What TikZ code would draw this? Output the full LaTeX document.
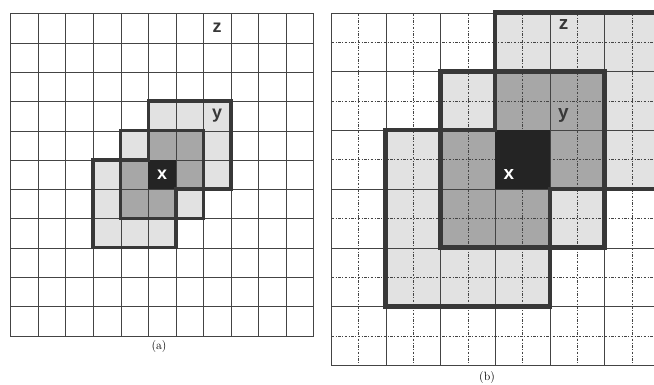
\documentclass[tikz,border=0pt]{standalone}
\usepackage{fontspec}
\newfontfamily\cellfont{Liberation Sans}

\definecolor{ringtwo}{HTML}{E2E2E2}
\definecolor{ringone}{HTML}{A7A7A7}
\definecolor{centre}{HTML}{242424}
\definecolor{rim}{HTML}{383838}
\definecolor{rulec}{HTML}{444444}

% hexagonal neighbourhood around the cell whose top left corner is (0,0)
\newcommand{\hexcells}{%
  \foreach \c/\r in {0/-2,1/-2,2/-2,-1/-1,2/-1,-2/0,2/0,-2/1,1/1,-2/2,-1/2,0/2}
    \fill[ringtwo] (\c,\r) rectangle ++(1,1);
  \foreach \c/\r in {0/-1,1/-1,-1/0,1/0,-1/1,0/1}
    \fill[ringone] (\c,\r) rectangle ++(1,1);}
\newcommand{\hexrims}[1]{%
  \fill[centre] (0,0) rectangle (1,1);
  \draw[rim,line width=#1,line join=miter]
    (0,-2) -| (3,1) -| (2,2) -| (1,3) -| (-2,0) -| (-1,-1) -| (0,-2) -- cycle;
  \draw[rim,line width=#1,line join=miter]
    (0,-1) -| (2,1) -| (1,2) -| (-1,0) -| (0,-1) -- cycle;}

\begin{document}
\begin{tikzpicture}[x=1bp,y=-1bp,
  panela/.style={shift={(148.3,159.8)},x=27.56bp,y=-29.3bp},
  panelb/.style={shift={(495.1,130)},x=54.7bp,y=-58.75bp},
  thinrule/.style={rulec,line width=1.3bp,line cap=rect},
  majorrule/.style={rulec,line width=1.7bp,line cap=rect},
  subrule/.style={rulec,line width=1.1bp,dash pattern=on 2.5bp off 1.5bp on 1bp off 1.5bp},
  lettera/.style={font=\cellfont\bfseries\fontsize{18}{18}\selectfont,text=rim,inner sep=0pt},
  letterb/.style={font=\cellfont\bfseries\fontsize{19}{19}\selectfont,text=rim,inner sep=0pt},
  caption/.style={font=\fontsize{12}{12}\selectfont,inner sep=0pt}]
\useasboundingbox (0,0) rectangle (654,384);

% (a)
\begin{scope}[panela]
\hexcells
\end{scope}
\foreach \k in {0,...,11} {
  \pgfmathsetmacro\gx{round(10.3+27.56*\k)+0.5}
  \pgfmathsetmacro\gy{round(13.3+29.3*\k)+0.5}
  \draw[thinrule] (\gx,13.5) -- (\gx,336.5);
  \draw[thinrule] (10.5,\gy) -- (313.5,\gy);
}
\begin{scope}[panela]
\hexrims{3.5bp}
\node[lettera,text=white] (xa) at (0.5,0.5) {x};
\node[lettera] (ya) at (2.5,-1.5) {y};
\node[lettera] (za) at (2.5,-4.5) {z};
\end{scope}
\node[caption] (capa) at (159,347) {(a)};

% (b)
\begin{scope}[panelb]
\hexcells
\end{scope}
\foreach \k in {0,...,5} {
  \pgfmathsetmacro\hx{round(358.35+54.7*\k)+0.5}
  \pgfmathsetmacro\hy{round(41.875+58.75*\k)+0.5}
  \draw[subrule] (\hx,13.5) -- (\hx,365.5);
  \draw[subrule] (331.5,\hy) -- (654,\hy);
}
\foreach \k in {0,...,6} {
  \pgfmathsetmacro\gx{round(331+54.7*\k)+0.5}
  \pgfmathsetmacro\gy{round(12.5+58.75*\k)+0.5}
  \draw[majorrule] (\gx,13.5) -- (\gx,365.5);
  \draw[majorrule] (331.5,\gy) -- (656,\gy);
}
\begin{scope}[panelb]
\clip (-3.1,-2.1) rectangle (2.916,4.1);
\hexrims{4.5bp}
\node[letterb,text=white] (xb) at (0.25,0.75) {x};
\node[letterb] (yb) at (1.25,-0.25) {y};
\node[letterb] (zb) at (1.25,-1.8) {z};
\end{scope}
\node[caption] (capb) at (487,378) {(b)};
\end{tikzpicture}
\end{document}
